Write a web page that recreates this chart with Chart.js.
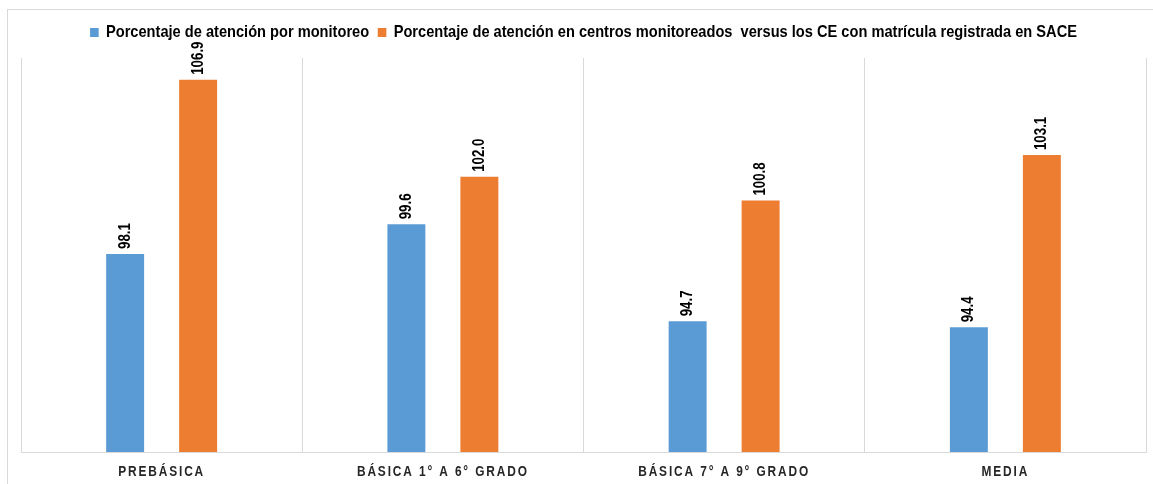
<!DOCTYPE html>
<html>
<head>
<meta charset="utf-8">
<script src="https://cdn.jsdelivr.net/npm/chart.js@4/dist/chart.umd.min.js"></script>
<style>
  html, body { margin: 0; padding: 0; background: #fff; }
  #wrap { width: 1153px; height: 484px; }
</style>
</head>
<body>
<div id="wrap"><canvas id="barChart" width="1153" height="484"></canvas></div>
<script>
const categories = ['PREBÁSICA', 'BÁSICA 1° A 6° GRADO', 'BÁSICA 7° A 9° GRADO', 'MEDIA'];
const seriesLabels = [
    'Porcentaje de atención por monitoreo',
    'Porcentaje de atención en centros monitoreados  versus los CE con matrícula registrada en SACE'
];
const monitoreo = [98.1, 99.6, 94.7, 94.4];
const centrosVsSace = [106.9, 102.0, 100.8, 103.1];

// no hay Arial Narrow: se comprime el texto en horizontal
const FONT = "'Liberation Sans', Arial, sans-serif";
const NARROW = 0.86;

// cuadro exterior
const outerFrame = {
    id: 'outerFrame',
    beforeDraw(chart) {
        const ctx = chart.ctx;
        ctx.save();
        ctx.strokeStyle = '#d9d9d9';
        ctx.lineWidth = 1;
        ctx.strokeRect(7.5, 9.5, 1160, 500);
        ctx.restore();
    }
};

// leyenda: margen inferior y texto estrecho (en una sola fila)
const legendTweaks = {
    id: 'legendTweaks',
    beforeInit(chart) {
        const legend = chart.legend;
        const fit = legend.fit;
        legend.fit = function () {
            const mw = this.maxWidth;
            this.maxWidth = mw / NARROW;
            fit.call(this);
            this.maxWidth = mw;
            this.width = Math.min(this.width, mw);
            this.height += 7;
        };
        const draw = legend.draw;
        legend.draw = function () {
            const ctx = this.ctx;
            const left = this.left, right = this.right;
            const cx = (left + right) / 2;
            this.left = cx - (cx - left) / NARROW;
            this.right = cx + (right - cx) / NARROW;
            ctx.save();
            ctx.translate(cx, 0);
            ctx.scale(NARROW, 1);
            ctx.translate(-cx, 0);
            draw.apply(this, arguments);
            ctx.restore();
            this.left = left;
            this.right = right;
        };
    }
};

// etiquetas del eje x: estrechas y con espaciado de letras
const narrowTicks = {
    id: 'narrowTicks',
    afterLayout(chart) {
        const scale = chart.scales.x;
        if (scale._narrow) return;
        scale.drawLabels = function (area) {
            const ctx = this.ctx;
            const items = this.getLabelItems(area);
            ctx.save();
            ctx.letterSpacing = '2.2px';
            items.forEach(it => {
                const o = it.options;
                ctx.save();
                ctx.translate(o.translation[0], o.translation[1]);
                ctx.scale(0.85, 1);
                ctx.font = it.font.string;
                ctx.fillStyle = o.color;
                ctx.textAlign = o.textAlign;
                ctx.textBaseline = o.textBaseline;
                ctx.fillText(it.label, 0, it.textOffset);
                ctx.restore();
            });
            ctx.restore();
        };
        scale._narrow = true;
    }
};

// valores encima de cada barra, rotados
const barValues = {
    id: 'barValues',
    afterDatasetsDraw(chart) {
        const ctx = chart.ctx;
        ctx.save();
        ctx.font = 'bold 16px ' + FONT;
        ctx.fillStyle = '#000';
        ctx.textAlign = 'left';
        ctx.textBaseline = 'middle';
        chart.data.datasets.forEach((ds, i) => {
            const meta = chart.getDatasetMeta(i);
            meta.data.forEach((bar, j) => {
                ctx.save();
                ctx.translate(bar.x, bar.y - 5);
                ctx.rotate(-Math.PI / 2);
                ctx.scale(0.83, 1);
                ctx.fillText(ds.data[j].toFixed(1), 0, 0);
                ctx.restore();
            });
        });
        ctx.restore();
    }
};

new Chart(document.getElementById('barChart'), {
    type: 'bar',
    data: {
        labels: categories,
        datasets: [
            { label: seriesLabels[0], data: monitoreo, backgroundColor: '#5b9bd5' },
            { label: seriesLabels[1], data: centrosVsSace, backgroundColor: '#ed7d31' }
        ]
    },
    options: {
        responsive: false,
        animation: false,
        categoryPercentage: 0.519,
        barPercentage: 0.52,
        layout: { padding: { top: 14, left: 21, right: 7, bottom: -8 } },
        plugins: {
            legend: {
                position: 'top',
                labels: {
                    boxWidth: 10,
                    boxHeight: 9,
                    padding: 10,
                    color: '#000',
                    font: { family: FONT, size: 17, weight: 'bold' }
                }
            },
            tooltip: { enabled: false }
        },
        scales: {
            x: {
                grid: { display: true, color: '#d9d9d9', drawTicks: false, offset: true },
                border: { display: true, color: '#d9d9d9' },
                ticks: {
                    color: '#262626',
                    padding: 11.6,
                    autoSkip: false,
                    maxRotation: 0,
                    font: { family: FONT, size: 14, weight: 'bold' }
                }
            },
            y: {
                display: false,
                min: 88.1,
                max: 108
            }
        }
    },
    plugins: [outerFrame, legendTweaks, narrowTicks, barValues]
});
</script>
</body>
</html>
